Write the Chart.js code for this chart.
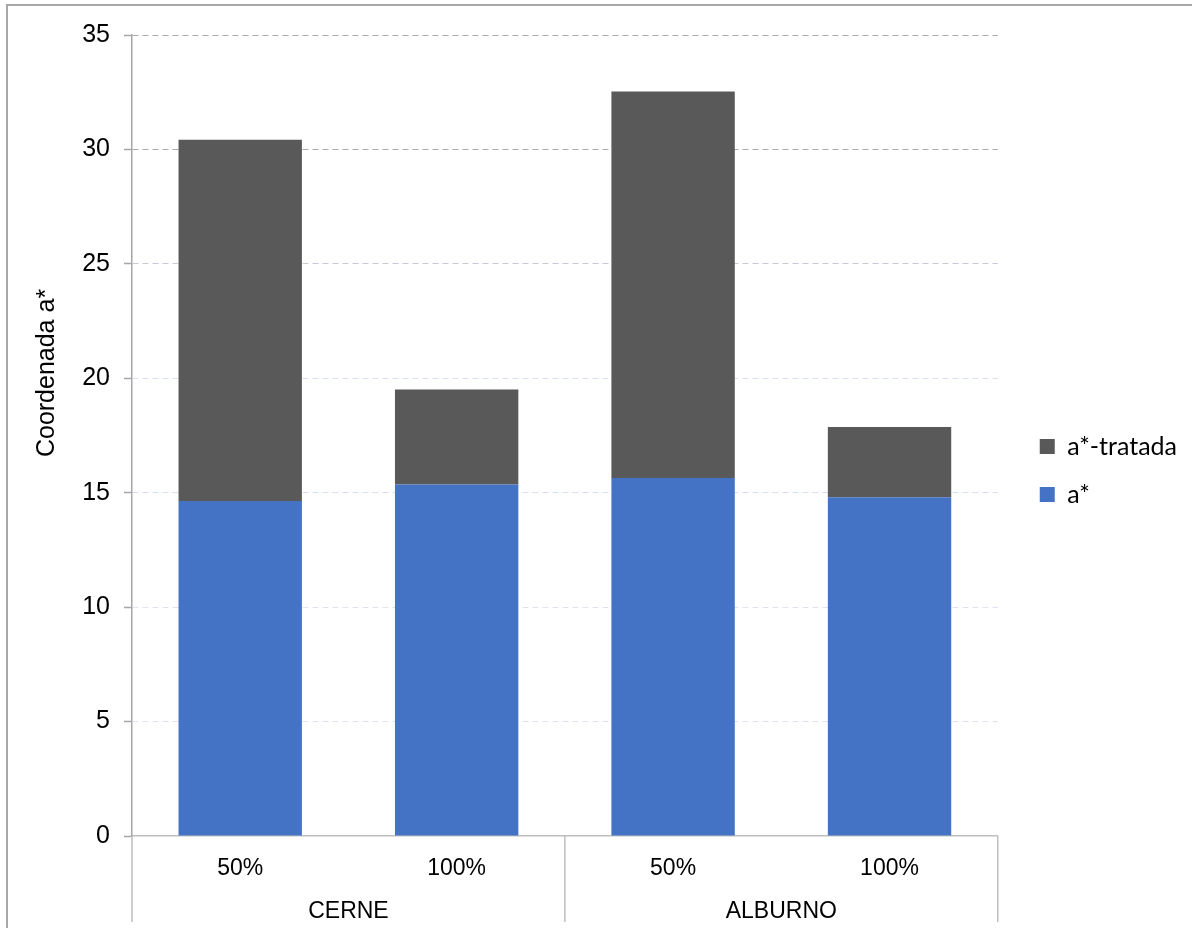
<!DOCTYPE html>
<html>
<head>
<meta charset="utf-8">
<script src="https://cdn.jsdelivr.net/npm/chart.js@4"></script>
<style>
  body { margin: 0; background: #fff; overflow: hidden; }
  .frame {
    position: absolute; left: 6px; top: 4px; width: 1300px; height: 1000px;
    border-left: 2px solid #a8a8a8; border-top: 2px solid #a8a8a8;
  }
  #chart { position: absolute; left: 0; top: 0; }
</style>
</head>
<body>
<div class="frame"></div>
<canvas id="chart" width="1192" height="928"></canvas>
<script>
// categories: concentration inside each wood zone
const concentrations = ["50%", "100%", "50%", "100%"];
const zones = ["CERNE", "ALBURNO"];

// a* before treatment and increment after treatment
const aStar = [14.64, 15.36, 15.64, 14.80];
const aStarTratada = [15.78, 4.15, 16.89, 3.07];

const yTicks = { min: 0, max: 35, step: 5 };

// grid colours fade from grey at the top to pale blue lower down
function gridColor(ctx) {
  const v = ctx.tick ? ctx.tick.value : null;
  if (v === 0) return "transparent";
  if (v >= 30) return "#ababab";
  if (v === 25) return "#c9c9d6";
  if (v >= 15) return "#d6deef";
  return "#e2e2ee";
}

// vertical separators below the x axis (left edge, between groups, right edge)
const groupSeparators = {
  id: "groupSeparators",
  afterDraw(chart) {
    const x = chart.scales.x;
    const area = chart.chartArea;
    const ctx = chart.ctx;
    const mid = (x.getPixelForTick(1) + x.getPixelForTick(2)) / 2;
    ctx.save();
    ctx.strokeStyle = "#bfbfbf";
    ctx.lineWidth = 1.5;
    [area.left, mid, area.right].forEach((px) => {
      ctx.beginPath();
      ctx.moveTo(px, area.bottom);
      ctx.lineTo(px, area.bottom + 86);
      ctx.stroke();
    });
    ctx.restore();
  },
};

// nudge the legend block a bit away from the plot and upwards
const legendOffset = {
  id: "legendOffset",
  afterLayout(chart) {
    const lg = chart.legend;
    if (!lg) return;
    lg.left += 19;
    lg.right += 19;
    lg.top -= 11;
    lg.bottom -= 11;
  },
};

const ctx = document.getElementById("chart").getContext("2d");
new Chart(ctx, {
  type: "bar",
  data: {
    labels: concentrations,
    datasets: [
      {
        label: "a*",
        data: aStar,
        backgroundColor: "#4472c4",
        barPercentage: 0.57,
        categoryPercentage: 1,
      },
      {
        label: "a*-tratada",
        data: aStarTratada,
        backgroundColor: "#595959",
        barPercentage: 0.57,
        categoryPercentage: 1,
      },
    ],
  },
  options: {
    responsive: false,
    animation: false,
    layout: { padding: { top: 35, right: 24, bottom: 0, left: 0 } },
    scales: {
      x: {
        stacked: true,
        grid: { display: false },
        border: { display: true, color: "#bfbfbf", width: 1.5 },
        ticks: {
          color: "#000",
          padding: 11,
          font: { family: "Liberation Sans", size: 23 },
        },
        afterFit: (s) => { s.height = 46; },
      },
      x2: {
        type: "category",
        position: "bottom",
        labels: zones,
        offset: true,
        weight: 1,
        grid: { display: false },
        border: { display: false },
        ticks: {
          color: "#000",
          padding: 8,
          font: { family: "Liberation Sans", size: 23 },
        },
        afterFit: (s) => { s.height = 46; },
      },
      y: {
        stacked: true,
        min: yTicks.min,
        max: yTicks.max,
        ticks: {
          stepSize: yTicks.step,
          color: "#000",
          padding: 14,
          font: { family: "Liberation Sans", size: 25 },
        },
        grid: {
          color: gridColor,
          lineWidth: 1,
          tickLength: 8,
          tickColor: "#a6a6a6",
          tickBorderDash: [],
          tickWidth: 1.5,
        },
        border: { display: true, color: "#a6a6a6", width: 1.5, dash: [6, 4] },
        title: {
          display: true,
          // leading spaces lift the rotated title above the axis middle
          text: " ".repeat(18) + "Coordenada a*",
          color: "#000",
          padding: { top: 32, bottom: 0 },
          font: { family: "Liberation Sans", size: 25 },
        },
        afterFit: (s) => { s.width = 132; },
      },
    },
    plugins: {
      legend: {
        position: "right",
        reverse: true,
        labels: {
          boxWidth: 15,
          boxHeight: 15,
          padding: 23,
          color: "#000",
          font: { family: "Lato", size: 25 },
        },
      },
      tooltip: { enabled: false },
    },
  },
  plugins: [groupSeparators, legendOffset],
});
</script>
</body>
</html>
